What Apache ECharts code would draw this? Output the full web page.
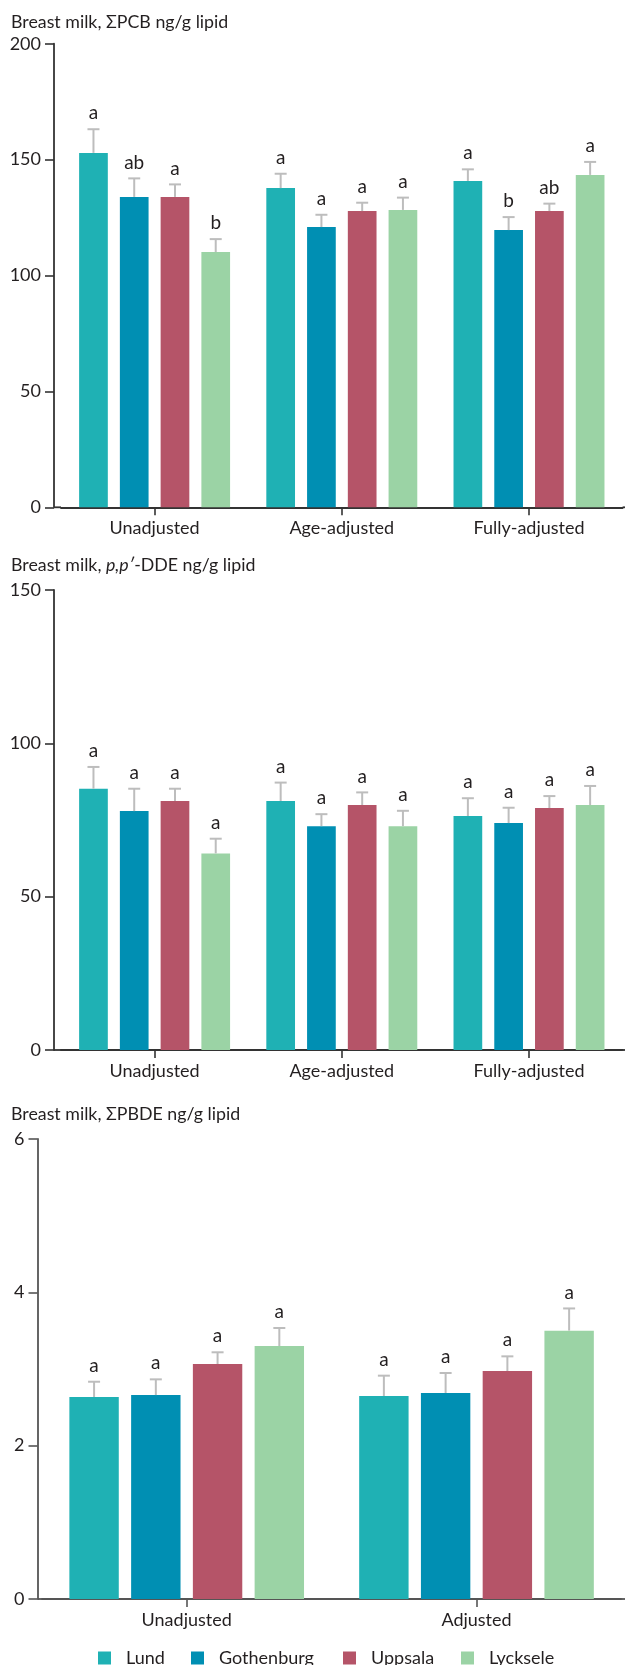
<!DOCTYPE html>
<html>
<head>
<meta charset="utf-8">
<script src="https://cdn.jsdelivr.net/npm/echarts@6/dist/echarts.min.js"></script>
<style>
  html, body { margin: 0; padding: 0; background: #fff; }
  #chart { width: 625px; height: 1665px; }
</style>
</head>
<body>
<div id="chart"></div>
<script>
// Study sites (series) and their colours
const sites = ['Lund', 'Gothenburg', 'Uppsala', 'Lycksele'];
const siteColors = ['#1fb1b4', '#008fb3', '#b55468', '#9bd3a5'];

// ΣPCB, ng/g lipid — rows follow `sites`, columns follow pcbCategories
const pcbCategories = ['Unadjusted', 'Age-adjusted', 'Fully-adjusted'];
const pcbMean  = [[152.9, 137.7, 140.8], [133.9, 120.9, 119.6], [133.9, 127.8, 127.8], [110.1, 128.3, 143.4]];
const pcbUpper = [[163.1, 143.9, 145.8], [141.9, 126.2, 125.2], [139.3, 131.4, 131.0], [115.7, 133.6, 149.0]];
const pcbLetters = [['a', 'a', 'a'], ['ab', 'a', 'b'], ['a', 'a', 'ab'], ['b', 'a', 'a']];
const pcbTicks = [0, 50, 100, 150, 200];

// p,p'-DDE, ng/g lipid
const ddeCategories = ['Unadjusted', 'Age-adjusted', 'Fully-adjusted'];
const ddeMean  = [[85.2, 81.2, 76.3], [77.9, 73.0, 74.0], [81.2, 79.9, 78.9], [64.1, 73.0, 79.9]];
const ddeUpper = [[92.3, 87.2, 82.1], [85.2, 76.9, 79.0], [85.2, 84.0, 82.8], [68.9, 78.0, 86.1]];
const ddeLetters = [['a', 'a', 'a'], ['a', 'a', 'a'], ['a', 'a', 'a'], ['a', 'a', 'a']];
const ddeTicks = [0, 50, 100, 150];

// ΣPBDE, ng/g lipid
const pbdeCategories = ['Unadjusted', 'Adjusted'];
const pbdeMean  = [[2.635, 2.648], [2.66, 2.687], [3.065, 2.974], [3.30, 3.50]];
const pbdeUpper = [[2.834, 2.913], [2.865, 2.948], [3.218, 3.165], [3.535, 3.79]];
const pbdeLetters = [['a', 'a'], ['a', 'a'], ['a', 'a'], ['a', 'a']];
const pbdeTicks = [0, 2, 4, 6];

const FONT = 'Lato';
const TEXT = '#231f20';
const ERR = '#bdbdbd';
const W = 625;

// Panel geometry
const panels = [
  { title: '{n|Breast milk, ΣPCB ng/g lipid}', titleTop: 13, left: 61, top: 43.7, width: 561.6, height: 463.6,
    axisX: 54, axisColor: '#333', barWidth: 28.7, gapRatio: 0.42,
    cats: pcbCategories, mean: pcbMean, upper: pcbUpper, letters: pcbLetters, ticks: pcbTicks },
  { title: '{n|Breast milk, }{i|p,p′}{n|-DDE ng/g lipid}', titleTop: 556, left: 61, top: 590, width: 561.6, height: 460,
    axisX: 54, axisColor: '#333', barWidth: 28.7, gapRatio: 0.42,
    cats: ddeCategories, mean: ddeMean, upper: ddeUpper, letters: ddeLetters, ticks: ddeTicks },
  { title: '{n|Breast milk, ΣPBDE ng/g lipid}', titleTop: 1105, left: 41.8, top: 1139, width: 579.6, height: 460,
    axisX: 37.5, axisColor: '#555', barWidth: 49.4, gapRatio: 0.25,
    cats: pbdeCategories, mean: pbdeMean, upper: pbdeUpper, letters: pbdeLetters, ticks: pbdeTicks }
];

const grid = [], xAxis = [], yAxis = [], series = [], title = [], graphic = [];

panels.forEach((p, i) => {
  grid.push({ left: p.left, top: p.top, width: p.width, height: p.height, containLabel: false });

  title.push({
    text: p.title, left: 11, top: p.titleTop, padding: 0,
    textStyle: {
      fontFamily: FONT, fontSize: 17.8, fontWeight: 'normal', color: TEXT,
      rich: {
        n: { fontFamily: FONT, fontSize: 17.8, color: TEXT },
        i: { fontFamily: FONT, fontSize: 17.8, color: TEXT, fontStyle: 'italic' }
      }
    }
  });

  xAxis.push({
    type: 'category', gridIndex: i, data: p.cats, boundaryGap: true,
    axisLine: { show: true, lineStyle: { color: p.axisColor, width: 1.8 } },
    axisTick: { show: true, alignWithLabel: true, length: 8, lineStyle: { color: p.axisColor, width: 1.6 } },
    axisLabel: { margin: 12, color: TEXT, fontFamily: FONT, fontSize: 18 },
    splitLine: { show: false }
  });

  const tMin = p.ticks[0], tMax = p.ticks[p.ticks.length - 1];
  yAxis.push({
    type: 'value', gridIndex: i, min: tMin, max: tMax, interval: p.ticks[1] - p.ticks[0],
    offset: p.left - p.axisX,
    axisLine: { show: true, lineStyle: { color: p.axisColor, width: 1.8 } },
    axisTick: { show: true, length: 9, lineStyle: { color: p.axisColor, width: 1.6 } },
    axisLabel: { margin: 13, color: TEXT, fontFamily: FONT, fontSize: 18 },
    splitLine: { show: false }
  });

  // Bars
  sites.forEach((name, s) => {
    series.push({
      type: 'bar', name, xAxisIndex: i, yAxisIndex: i, data: p.mean[s],
      barWidth: p.barWidth, barGap: (p.gapRatio * 100) + '%',
      itemStyle: { color: siteColors[s] }, silent: true
    });
  });

  // Error bars (upper whisker) and significance letters
  const errData = [];
  p.mean.forEach((row, s) => row.forEach((v, c) => errData.push([c, s, v, p.upper[s][c]])));
  series.push({
    type: 'custom', xAxisIndex: i, yAxisIndex: i, data: errData, silent: true, z: 5,
    encode: { x: 0, y: 3 },
    renderItem(params, api) {
      const c = api.value(0), s = api.value(1);
      const pitch = p.barWidth * (1 + p.gapRatio);
      const x = api.coord([c, 0])[0] + (s - 1.5) * pitch;
      const yMean = api.coord([c, api.value(2)])[1];
      const yTop = api.coord([c, api.value(3)])[1];
      return {
        type: 'group',
        children: [
          { type: 'line', shape: { x1: x, y1: yMean, x2: x, y2: yTop }, style: { stroke: ERR, lineWidth: 2 } },
          { type: 'line', shape: { x1: x - 6, y1: yTop, x2: x + 6, y2: yTop }, style: { stroke: ERR, lineWidth: 2 } },
          { type: 'text', x: x, y: yTop - 16,
            style: { text: p.letters[s][c], fill: TEXT, fontFamily: FONT, fontSize: 19, align: 'center', verticalAlign: 'middle' } }
        ]
      };
    }
  });

  // Baseline continues from the value axis and out to the right edge
  const baseY = p.top + p.height;
  graphic.push(
    { type: 'line', shape: { x1: p.axisX, y1: baseY, x2: p.left, y2: baseY }, style: { stroke: p.axisColor, lineWidth: 1.8 }, silent: true },
    { type: 'line', shape: { x1: p.left + p.width, y1: baseY, x2: W, y2: baseY }, style: { stroke: p.axisColor, lineWidth: 1.8 }, silent: true }
  );
});

// Legend: one entry per site along the bottom
const legendLeft = [93, 186, 338, 456];
const legend = sites.map((name, s) => ({
  data: [name], left: legendLeft[s], top: 1644, orient: 'horizontal',
  icon: 'rect', itemWidth: 13, itemHeight: 13, selectedMode: false,
  textStyle: { color: TEXT, fontFamily: FONT, fontSize: 18, padding: [0, 0, 0, 10] }
}));

const chart = echarts.init(document.getElementById('chart'), null, { renderer: 'canvas' });
chart.setOption({
  animation: false,
  backgroundColor: '#fff',
  title, grid, xAxis, yAxis, series, legend, graphic
});
</script>
</body>
</html>
